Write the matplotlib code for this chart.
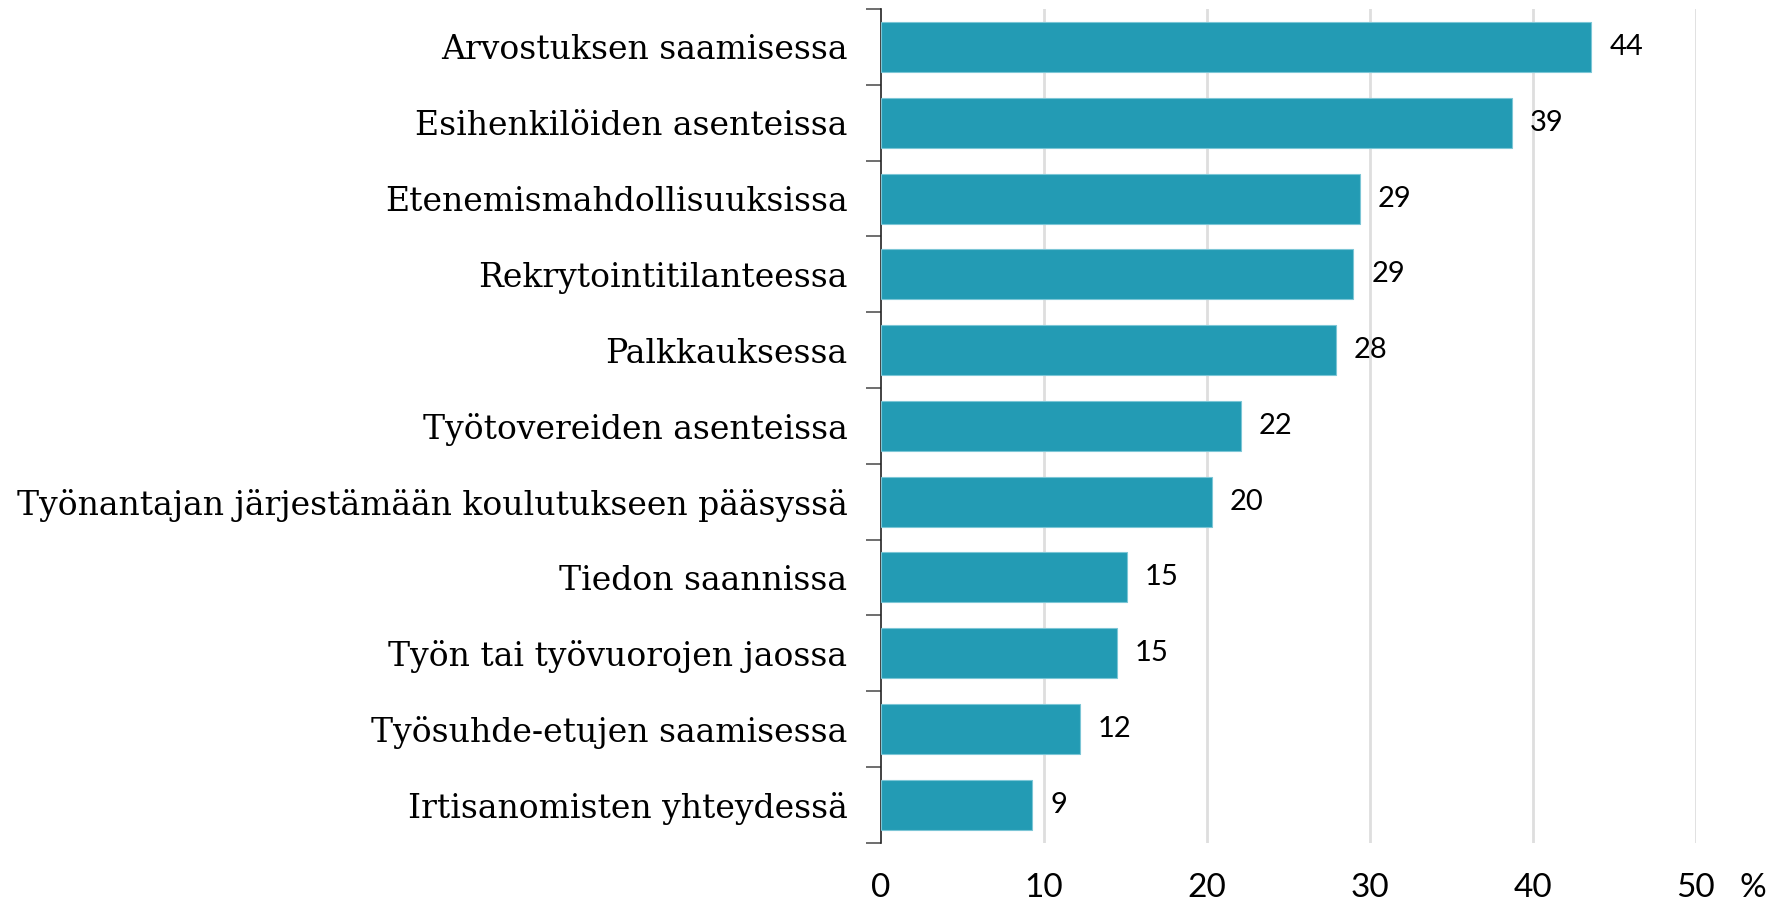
import matplotlib.pyplot as plt
import numpy as np

categories = [
    "Arvostuksen saamisessa",
    "Esihenkilöiden asenteissa",
    "Etenemismahdollisuuksissa",
    "Rekrytointitilanteessa",
    "Palkkauksessa",
    "Työtovereiden asenteissa",
    "Työnantajan järjestämään koulutukseen pääsyssä",
    "Tiedon saannissa",
    "Työn tai työvuorojen jaossa",
    "Työsuhde-etujen saamisessa",
    "Irtisanomisten yhteydessä",
]
values = [43.6, 38.7, 29.4, 29.0, 27.9, 22.1, 20.3, 15.1, 14.5, 12.2, 9.3]
value_labels = ["44", "39", "29", "29", "28", "22", "20", "15", "15", "12", "9"]
x_ticks = [0, 10, 20, 30, 40, 50]

bar_color = "#239bb4"
sans = ["Lato", "DejaVu Sans"]
serif = ["DejaVu Serif"]

fig = plt.figure(figsize=(17.72, 9.08), dpi=100)
ax = fig.add_axes([0.497, 0.072, 0.46, 0.918])

n = len(categories)
y = np.arange(n)
ax.barh(y, values, height=0.66, color=bar_color, edgecolor="#7cc6d6", linewidth=0.8, zorder=3)

ax.set_xlim(0, 50)
ax.set_ylim(n - 0.5, -0.5)

# gridlines
for t in x_ticks[1:]:
    ax.axvline(t, color="#dedede", linewidth=2, zorder=1)

# value labels
for yi, v, lab in zip(y, values, value_labels):
    ax.text(v + 1.1, yi, lab, ha="left", va="center", fontsize=21, family=sans, zorder=4)

# y axis: labels at centers, tick marks at boundaries
ax.set_yticks(y)
ax.set_yticklabels(categories, family=serif, fontsize=23.8)
ax.tick_params(axis="y", which="major", length=0, pad=24)
ax.set_yticks(np.arange(n + 1) - 0.5, minor=True)
ax.tick_params(axis="y", which="minor", length=11, color="#555555", width=1.2)

ax.set_xticks(x_ticks)
ax.set_xticklabels([str(t) for t in x_ticks], family=sans, fontsize=24)
ax.tick_params(axis="x", length=0, pad=22)

for s in ["top", "right", "bottom"]:
    ax.spines[s].set_visible(False)
ax.spines["left"].set_color("#222222")
ax.spines["left"].set_linewidth(1.2)

ax.annotate("%", xy=(53.5, 0), xycoords=("data", "axes fraction"),
            xytext=(0, -22), textcoords="offset points", ha="center", va="top",
            fontsize=24, family=sans, annotation_clip=False)

fig.savefig("out.png", dpi=100)
